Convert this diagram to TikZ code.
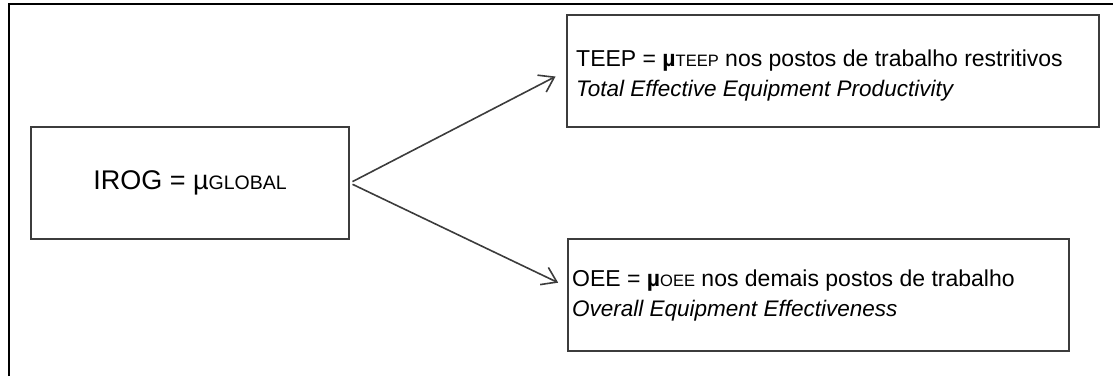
\documentclass[tikz,border=0pt]{standalone}
\usepackage{fontspec}
\setmainfont{Liberation Sans}
\usetikzlibrary{arrows.meta}
\definecolor{boxgray}{RGB}{60,60,60}
\newcommand{\subtag}[2]{{\fontsize{#1}{#1}\selectfont #2}}

\begin{document}
\begin{tikzpicture}[x=1pt, y=-1pt, >={Straight Barb[length=14pt,width=19pt]},
  box/.style={draw=boxgray, line width=1.6pt, minimum height=112pt, inner sep=0pt},
  boxtext/.style={anchor=north west, inner sep=0pt, align=left, font=\fontsize{23}{30}\selectfont},
  link/.style={->, draw=boxgray, line width=1.6pt, shorten <=3pt}]
\useasboundingbox (0,0) rectangle (1113,376);
% outer frame
\draw[line width=1.6pt] (9,376) -- (9,4) -- (1113,4);
% boxes
\node[box, minimum width=318pt, font=\fontsize{27}{34}\selectfont] (irog) at (190,183) {IROG = µ\subtag{19.5}{GLOBAL}};
\node[box, minimum width=532pt] (teepbox) at (833,71) {};
\node[box, minimum width=501pt] (oeebox) at (818.5,295) {};
\node[boxtext] (teep) at (576,50) {TEEP = {\bfseries µ}\subtag{16.5}{TEEP} nos postos de trabalho restritivos\\ {\fontsize{22.5}{30}\selectfont\itshape Total Effective Equipment Productivity}};
\node[boxtext] (oee) at (572,270) {OEE = {\bfseries µ}\subtag{16.5}{OEE} nos demais postos de trabalho\\ {\fontsize{22.5}{30}\selectfont\itshape Overall Equipment Effectiveness}};
% arrows
\draw[link, shorten >=12pt] (irog.east) -- (teepbox.west);
\draw[link, shorten >=10pt] (irog.east) -- ([yshift=8pt]oeebox.west);
\end{tikzpicture}
\end{document}
